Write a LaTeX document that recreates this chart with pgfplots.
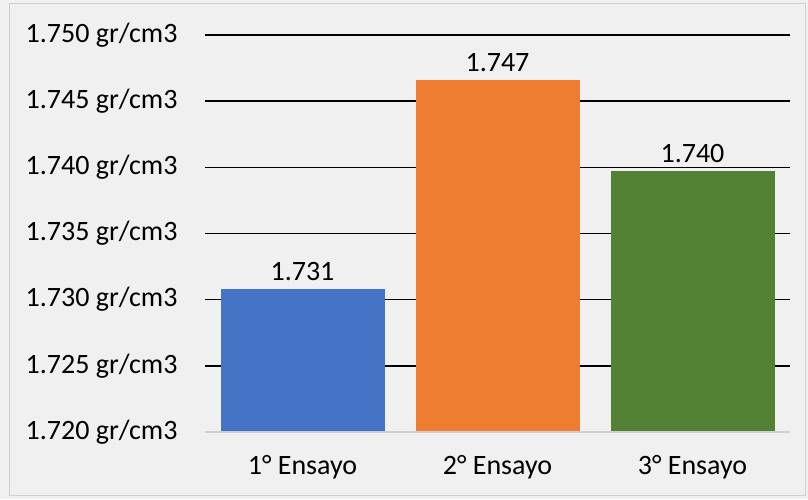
\documentclass[border=0pt]{standalone}
\usepackage{fontspec}
\setmainfont{Carlito}
\usepackage{pgfplots}
\pgfplotsset{compat=1.18}
\definecolor{barA}{HTML}{4472C4}
\definecolor{barB}{HTML}{ED7D31}
\definecolor{barC}{HTML}{548235}
\definecolor{bgfill}{HTML}{F0F0F0}
\definecolor{framecol}{HTML}{D0D0D0}
\begin{document}
\begin{tikzpicture}[x=1pt,y=1pt]
\useasboundingbox (0,0) rectangle (808,499);
\fill[bgfill] (0,0) rectangle (808,499);
\draw[framecol, line width=1pt] (9,4) rectangle (805,495);
\begin{axis}[
  at={(205pt,67pt)}, anchor=south west,
  scale only axis, width=585pt, height=397pt,
  xmin=-0.5, xmax=2.5, ymin=1.720, ymax=1.750,
  ytick={1.720,1.725,...,1.750},
  xtick={0,1,2}, xticklabels={1° Ensayo, 2° Ensayo, 3° Ensayo},
  axis line style={draw=none}, tick style={draw=none},
  ymajorgrids, grid style={black, line width=1.6pt},
  yticklabel={\pgfmathprintnumber[fixed,fixed zerofill,precision=3]{\tick}\ gr/cm3},
  /pgf/number format/assume math mode=true,
  ticklabel style={font=\fontsize{28}{32}\selectfont},
  yticklabel style={xshift=-24pt},
  xticklabel style={yshift=-20pt},
  nodes near coords style={font=\fontsize{28}{32}\selectfont, black, yshift=5pt},
  clip=false]
\addplot[ybar, bar width=164pt, fill=barA, draw=none,
  nodes near coords={1.731}] coordinates {(0,1.7308)};
\addplot[ybar, bar width=164pt, fill=barB, draw=none,
  nodes near coords={1.747}] coordinates {(1,1.7466)};
\addplot[ybar, bar width=164pt, fill=barC, draw=none,
  nodes near coords={1.740}] coordinates {(2,1.7397)};
\draw[framecol, line width=1.4pt] (axis cs:-0.5,1.720) -- (axis cs:2.5,1.720);
\end{axis}
\end{tikzpicture}
\end{document}
